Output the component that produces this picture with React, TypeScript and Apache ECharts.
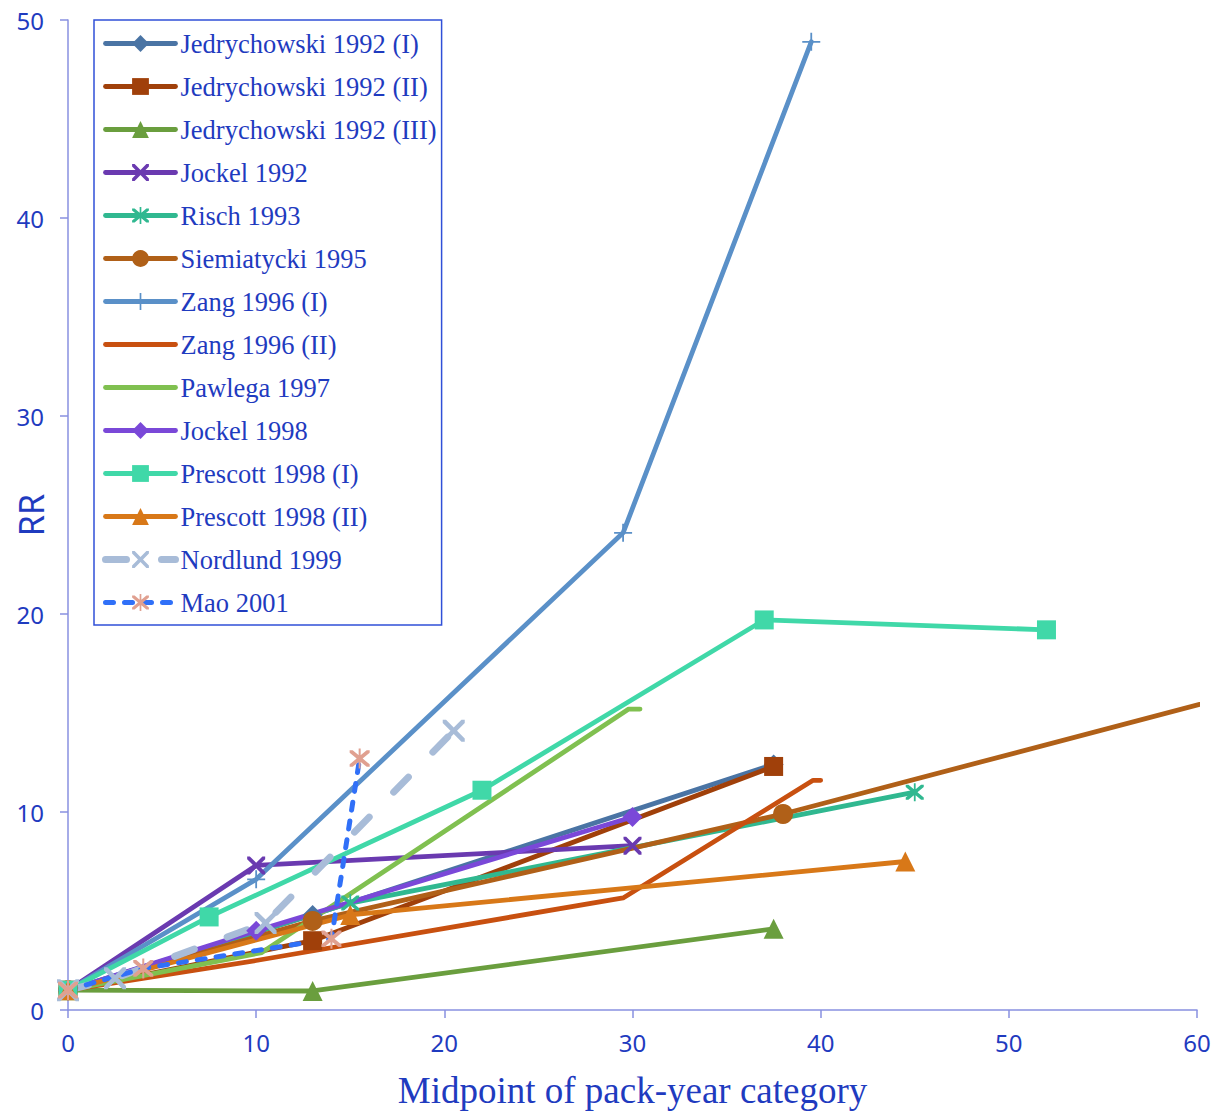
import React, { useEffect, useRef } from "react";
import * as echarts from "echarts";

// ---- data ----
const seriesNames = [
  "Jedrychowski 1992 (I)",
  "Jedrychowski 1992 (II)",
  "Jedrychowski 1992 (III)",
  "Jockel 1992",
  "Risch 1993",
  "Siemiatycki 1995",
  "Zang 1996 (I)",
  "Zang 1996 (II)",
  "Pawlega 1997",
  "Jockel 1998",
  "Prescott 1998 (I)",
  "Prescott 1998 (II)",
  "Nordlund 1999",
  "Mao 2001",
];

const jedrychowski1: number[][] = [[0, 1], [13, 4.8], [37.5, 12.4]];
const jedrychowski2: number[][] = [[0, 1], [13, 3.5], [37.5, 12.3]];
const jedrychowski3: number[][] = [[0, 1], [13, 0.96], [37.5, 4.1]];
const jockel1992: number[][] = [[0, 1], [10, 7.3], [30, 8.3]];
const risch1993: number[][] = [[0, 1], [15, 5.4], [45, 11.0]];
const siemiatycki1995: number[][] = [[0, 1], [13, 4.5], [38, 9.9], [80, 20.4]];
const zang1: number[][] = [[0, 1], [10, 6.6], [29.5, 24.1], [39.5, 48.9]];
const zang2: number[][] = [[0, 1], [10, 2.5], [29.5, 5.66], [39.6, 11.6], [40, 11.6]];
const pawlega1997: number[][] = [[0, 1], [10.3, 2.9], [29.8, 15.2], [30.4, 15.2]];
const jockel1998: number[][] = [[0, 1], [10, 4.0], [30, 9.75]];
const prescott1: number[][] = [[0, 1], [7.5, 4.7], [22, 11.1], [37, 19.7], [52, 19.2]];
const prescott2: number[][] = [[0, 1], [15, 4.8], [44.5, 7.5]];
const nordlund1999: number[][] = [[0, 1], [2.5, 1.6], [10.5, 4.4], [20.5, 14.1]];
const mao2001: number[][] = [[0, 1], [4, 2.1], [14, 3.6], [15.5, 12.7]];

const xTicks = [0, 10, 20, 30, 40, 50, 60];
const yTicks = [0, 10, 20, 30, 40, 50];

// ---- styling ----
const X_SYM =
  "path://M0,0 L3,0 L10,7 L17,0 L20,0 L20,3 L13,10 L20,17 L20,20 L17,20 L10,13 L3,20 L0,20 L0,17 L7,10 L0,3 Z";
const PLUS_SYM = "path://M9,0 L11,0 L11,9 L20,9 L20,11 L11,11 L11,20 L9,20 L9,11 L0,11 L0,9 L9,9 Z";
const STAR_SYM =
  "path://M0,0 L3,0 L10,7 L17,0 L20,0 L20,3 L13,10 L20,17 L20,20 L17,20 L10,13 L3,20 L0,20 L0,17 L7,10 L0,3 Z M9,-2 L11,-2 L11,22 L9,22 Z";

const TEXT_BLUE = "#1f3bbf";
const AXIS_COLOR = "#8890e0";

type Cfg = {
  data: number[][];
  color: string;
  markerColor?: string;
  symbol: string;
  size: number;
  dash?: number[];
  width?: number;
};

const cfgs: Cfg[] = [
  { data: jedrychowski1, color: "#4a74a4", symbol: "diamond", size: 20 },
  { data: jedrychowski2, color: "#a0400a", symbol: "rect", size: 19 },
  { data: jedrychowski3, color: "#6a9e3e", symbol: "triangle", size: 20 },
  { data: jockel1992, color: "#6a3ab0", symbol: X_SYM, size: 18 },
  { data: risch1993, color: "#30b890", symbol: STAR_SYM, size: 18 },
  { data: siemiatycki1995, color: "#b06018", symbol: "circle", size: 20 },
  { data: zang1, color: "#5a90c8", symbol: PLUS_SYM, size: 18 },
  { data: zang2, color: "#c85010", symbol: "none", size: 0 },
  { data: pawlega1997, color: "#80c050", symbol: "none", size: 0 },
  { data: jockel1998, color: "#7a48d8", symbol: "diamond", size: 20 },
  { data: prescott1, color: "#40d8a8", symbol: "rect", size: 19 },
  { data: prescott2, color: "#d87818", symbol: "triangle", size: 20 },
  { data: nordlund1999, color: "#a8bcd8", symbol: X_SYM, size: 22, dash: [21, 35], width: 7 },
  { data: mao2001, color: "#3070f8", markerColor: "#e0a090", symbol: STAR_SYM, size: 20, dash: [8, 11], width: 5 },
];

export default function App() {
  const ref = useRef<HTMLDivElement>(null);

  useEffect(() => {
    if (!ref.current) return;
    const chart = echarts.init(ref.current, undefined, { renderer: "svg" });

    const series = cfgs.map((c, i) => ({
      name: seriesNames[i],
      type: "line",
      data: c.data,
      symbol: c.symbol,
      symbolSize: c.size,
      showSymbol: c.symbol !== "none",
      clip: true,
      lineStyle: {
        color: c.color,
        width: c.width ?? 4.8,
        type: c.dash ? c.dash : "solid",
        cap: "round",
        join: "round",
      },
      itemStyle: { color: c.markerColor ?? c.color, opacity: 1 },
      emphasis: { disabled: true },
    }));

    const legendData = cfgs.map((c, i) => ({
      name: seriesNames[i],
      lineStyle: {
        width: c.width ?? 4.8,
        color: c.color,
        type: c.dash ? c.dash : "solid",
        cap: "round",
      },
      itemStyle: c.symbol === "none" ? { opacity: 0 } : { color: c.markerColor ?? c.color },
    }));

    chart.setOption({
      animation: false,
      backgroundColor: "#ffffff",
      grid: { left: 68, right: 16, top: 20, bottom: 103, containLabel: false, outerBoundsMode: "none" },
      legend: {
        orient: "vertical",
        left: 94,
        top: 20,
        padding: [10, 5, 9, 8],
        borderColor: "#3050d8",
        borderWidth: 1.5,
        itemWidth: 70,
        itemHeight: 21,
        itemGap: 16,
        textStyle: {
          fontFamily: "Liberation Serif",
          fontSize: 26.5,
          color: TEXT_BLUE,
          lineHeight: 27,
        },
        data: legendData,
      },
      xAxis: {
        type: "value",
        min: xTicks[0],
        max: xTicks[xTicks.length - 1],
        interval: 10,
        name: "Midpoint of pack-year category",
        nameLocation: "middle",
        nameGap: 62,
        nameMoveOverlap: false,
        nameTextStyle: { fontFamily: "Liberation Serif", fontSize: 37, color: TEXT_BLUE },
        axisLine: { show: true, onZero: false, lineStyle: { color: AXIS_COLOR, width: 1.5 } },
        axisTick: { show: true, inside: false, length: 8, lineStyle: { color: AXIS_COLOR, width: 1.5 } },
        axisLabel: { margin: 20, fontFamily: "Noto Sans", fontSize: 24, color: TEXT_BLUE },
        splitLine: { show: false },
      },
      yAxis: {
        type: "value",
        min: yTicks[0],
        max: yTicks[yTicks.length - 1],
        interval: 10,
        name: "RR",
        nameLocation: "middle",
        nameGap: 20,
        nameRotate: 90,
        nameMoveOverlap: false,
        nameTextStyle: { fontFamily: "Noto Sans", fontSize: 34, color: TEXT_BLUE },
        axisLine: { show: true, onZero: false, lineStyle: { color: AXIS_COLOR, width: 1.5 } },
        axisTick: { show: true, inside: false, length: 8, lineStyle: { color: AXIS_COLOR, width: 1.5 } },
        axisLabel: { margin: 24, fontFamily: "Noto Sans", fontSize: 24, color: TEXT_BLUE },
        splitLine: { show: false },
      },
      series,
    });

    return () => chart.dispose();
  }, []);

  return (
    <div
      ref={ref}
      style={{ position: "fixed", left: 0, top: 0, width: 1213, height: 1113 }}
    />
  );
}
